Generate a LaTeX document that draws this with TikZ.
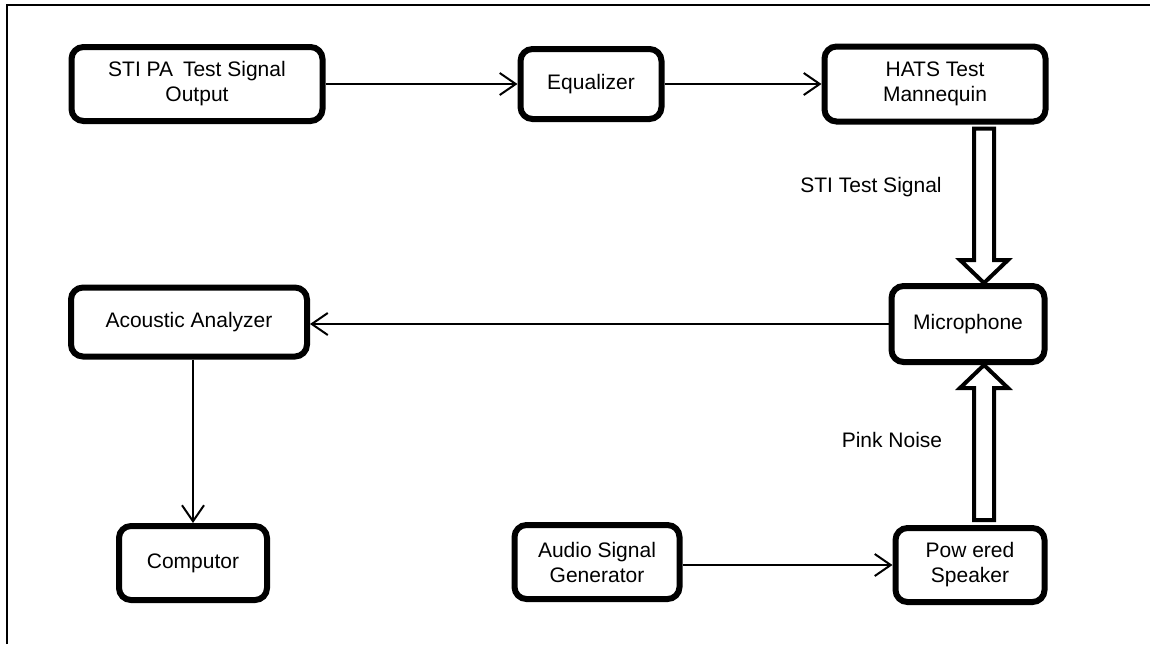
\documentclass[tikz,border=0pt]{standalone}
\usepackage{fontspec}
\setmainfont{Liberation Sans}
\usetikzlibrary{arrows.meta,calc}

\tikzstyle{blockNode}=[draw,line width=3pt,rounded corners=6pt,align=center,inner sep=0pt,outer sep=1.5pt,font=\fontsize{10.5}{12.5}\selectfont]
\tikzstyle{labelNode}=[font=\fontsize{10.5}{12.5}\selectfont]
\tikzstyle{flowLine}=[draw,line width=1pt,-{Straight Barb[length=8pt,width=11pt]}]
\tikzstyle{fatLine}=[draw,line width=2pt,fill=white,miter limit=10]

% hollow block arrow: start, tip, direction (1 = down, -1 = up)
\newcommand{\fatArrow}[3]{%
  \path[fatLine] let \p1=#1, \p2=#2 in
    ({\x1-5pt},\y1) -- ({\x1-5pt},{\y2+#3*11.5pt}) -- ({\x1-12pt},{\y2+#3*11.5pt})
    -- (\x1,\y2) -- ({\x1+12pt},{\y2+#3*11.5pt}) -- ({\x1+5pt},{\y2+#3*11.5pt})
    -- ({\x1+5pt},\y1) -- cycle;}

\begin{document}
\begin{tikzpicture}[x=0.5pt,y=-0.5pt]

  \useasboundingbox (0,0) rectangle (1150,644);
  \draw[line width=1pt] (7,644) -- (7,5) -- (1150,5);

  \node[blockNode,minimum width=125.5pt,minimum height=37pt] (sti) at (197,84) {STI PA\hspace{2pt} Test Signal\\Output};
  \node[blockNode,minimum width=70.5pt,minimum height=35pt] (eq) at (591,84) {Equalizer};
  \node[blockNode,minimum width=110.5pt,minimum height=37.5pt] (hats) at (935,84) {HATS Test\\Mannequin};
  \node[blockNode,minimum width=76.5pt,minimum height=38pt] (mic) at (968,324) {Microphone};
  \node[blockNode,minimum width=118pt,minimum height=34.5pt] (ana) at (189,322) {Acoustic Analyzer};
  \node[blockNode,minimum width=74pt,minimum height=37pt] (comp) at (193,563) {Computor};
  \node[blockNode,minimum width=82.5pt,minimum height=37pt] (gen) at (597,562) {Audio Signal\\Generator};
  \node[blockNode,minimum width=74.5pt,minimum height=37pt] (spk) at (970,565) {Pow ered\\Speaker};

  \node[labelNode] (sigLabel) at (871,187) {STI Test Signal};
  \node[labelNode] (noiseLabel) at (892,440) {Pink Noise};

  \path[flowLine] (sti.east) -- (eq.west);
  \path[flowLine] (eq.east) -- (hats.west);
  \path[flowLine] (mic.west) -- (mic.west -| ana.east);
  \path[flowLine] (ana.south -| comp.north) -- (comp.north);
  \path[flowLine] (spk.west -| gen.east) -- (spk.west);

  \fatArrow{($(hats.south)+(49,4)$)}{($(mic.north)+(16,0)$)}{1}
  \fatArrow{($(spk.north)+(14,-5)$)}{($(mic.south)+(16,0)$)}{-1}

\end{tikzpicture}
\end{document}
